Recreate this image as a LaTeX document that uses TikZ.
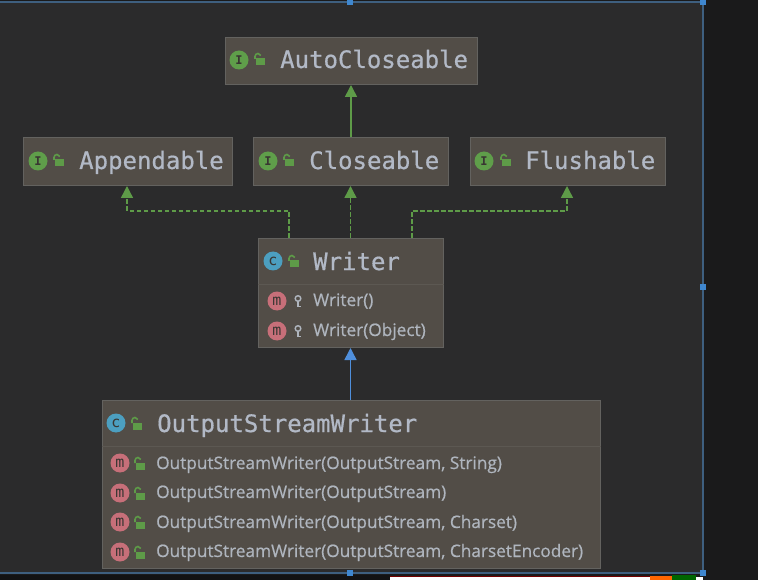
\documentclass[tikz,border=0pt]{standalone}
\usepackage{fontspec}
\setmainfont[FakeBold=0.6]{Open Sans}
\setmonofont[FakeBold=0.6]{DejaVu Sans Mono}
\newfontfamily\iconfont{DejaVu Sans Mono}
\usetikzlibrary{arrows.meta,positioning,calc}
\definecolor{bgc}{HTML}{2B2B2C}
\definecolor{outer}{HTML}{1A1A1B}
\definecolor{boxc}{HTML}{524D47}
\definecolor{boxb}{HTML}{63625F}
\definecolor{divc}{HTML}{5C5852}
\definecolor{txt}{HTML}{B2B9C6}
\definecolor{mtxt}{HTML}{AFB5BE}
\definecolor{grn}{HTML}{5E9B48}
\definecolor{igrn}{HTML}{5F9E4A}
\definecolor{cblue}{HTML}{4C9FC0}
\definecolor{mred}{HTML}{C76F79}
\definecolor{arrb}{HTML}{4F8FDC}
\definecolor{selb}{HTML}{3E5F7F}
\definecolor{hand}{HTML}{3F87CF}
\tikzset{
  x=1pt,y=-1pt,
  umlbox/.style={draw=boxb,line width=1pt,fill=boxc,inner sep=0pt,anchor=north west},
  title/.style={font=\ttfamily\fontsize{24}{24}\selectfont,text=txt,anchor=base west,inner sep=0pt},
  member/.style={font=\fontsize{17.25}{18}\selectfont,text=mtxt,anchor=base west,inner sep=0pt},
  ifaceicon/.style={circle,fill=igrn,minimum size=19pt,inner sep=0pt,text=boxc!70!black,font=\iconfont\bfseries\fontsize{12}{12}\selectfont},
  classicon/.style={circle,fill=cblue,minimum size=19pt,inner sep=0pt,text=boxc!70!black,font=\iconfont\fontsize{15}{15}\selectfont},
  methicon/.style={circle,fill=mred,minimum size=19pt,inner sep=0pt,text=boxc!70!black,font=\iconfont\fontsize{15}{15}\selectfont},
  handle/.style={fill=hand,draw=none,minimum size=6pt,inner sep=0pt},
  greenline/.style={draw=grn,line width=1.5pt},
  greendash/.style={draw=grn,line width=1.4pt,dash pattern=on 4.5pt off 2.5pt},
  bluetip/.style={-{Triangle[length=12pt,width=12pt,fill=arrb]},draw=arrb,line width=1.5pt},
  greentip/.style={-{Triangle[length=12pt,width=12pt,fill=grn]}},
}
\newcommand{\lockicon}[2]{%
  \fill[grn] (#1-3.5,#2-1.5) rectangle (#1+5.5,#2+5.5);
  \draw[grn,line width=1.6pt] (#1-4,#2-1) -- (#1-4,#2-3.5) arc[start angle=180,end angle=20,radius=3pt];
}
\newcommand{\keyicon}[2]{%
  \draw[mtxt,line width=1.4pt] (#1,#2-2.5) circle[radius=2.8pt];
  \draw[mtxt,line width=1.7pt] (#1,#2) -- (#1,#2+6) (#1,#2+5.5) -- (#1+2.5,#2+5.5);
}
\begin{document}
\begin{tikzpicture}
\useasboundingbox (0,0) rectangle (758,580);
\fill[outer] (0,0) rectangle (758,580);
\fill[bgc] (0,2) rectangle (703,573);
% bottom strip
\fill[outer!70!black] (0,575) rectangle (390,580);
\fill[white] (390,577) rectangle (703,580);
\fill[red!45!black] (390,576) rectangle (650,577);
\fill[orange!80!red] (650,576) rectangle (672,580);
\fill[green!40!black] (672,575) rectangle (696,580);
% selection frame
\draw[selb,line width=1.6pt] (0,2) -- (703,2) -- (703,573) -- (0,573);
\node[handle] (h1) at (350,2) {};
\node[handle] (h2) at (703,2) {};
\node[handle] (h3) at (703,287) {};
\node[handle] (h4) at (350,573) {};
\node[handle] (h5) at (703,573) {};
% boxes
\node[umlbox,minimum width=252pt,minimum height=47pt] (auto) at (224.5,37) {};
\node[umlbox,minimum width=209pt,minimum height=48pt] (app) at (23,137) {};
\node[umlbox,minimum width=195pt,minimum height=48pt] (clo) at (252.5,137) {};
\node[umlbox,minimum width=195pt,minimum height=48pt] (flu) at (469.5,137) {};
\node[umlbox,minimum width=185pt,minimum height=109pt] (wri) at (257.5,238) {};
\node[umlbox,minimum width=498pt,minimum height=168pt] (osw) at (101.5,400) {};
\draw[divc,line width=0.8pt] (wri.west |- 0,284) -- (wri.east |- 0,284);
\draw[divc,line width=0.8pt] (osw.west |- 0,446) -- (osw.east |- 0,446);
% titles
\node[title] (t1) at (280,68) {AutoCloseable};
\node[title] (t2) at (79,169) {Appendable};
\node[title] (t3) at (309,169) {Closeable};
\node[title] (t4) at (525,169) {Flushable};
\node[title] (t5) at (313,270) {Writer};
\node[title] (t6) at (157,432) {OutputStreamWriter};
% title icons
\node[ifaceicon] (i1) at (239,60) {I}; \lockicon{259}{60}
\node[ifaceicon] (i2) at (38,161) {I}; \lockicon{58}{161}
\node[ifaceicon] (i3) at (268,161) {I}; \lockicon{288}{161}
\node[ifaceicon] (i4) at (484,161) {I}; \lockicon{505}{161}
\node[classicon] (i5) at (273,261) {c}; \lockicon{293}{262}
\node[classicon] (i6) at (116,423) {c}; \lockicon{136}{424}
% Writer members
\node[methicon] (m1) at (277,301) {m}; \keyicon{298}{301}
\node[member] (w1) at (313,306) {Writer()};
\node[methicon] (m2) at (277,331) {m}; \keyicon{298}{331}
\node[member] (w2) at (313,336) {Writer(Object)};
% OSW members
\node[methicon] (m3) at (120,463) {m}; \lockicon{139}{464}
\node[member] (o1) at (156,469) {OutputStreamWriter(OutputStream, String)};
\node[methicon] (m4) at (120,493) {m}; \lockicon{139}{494}
\node[member] (o2) at (156,498) {OutputStreamWriter(OutputStream)};
\node[methicon] (m5) at (120,522) {m}; \lockicon{139}{523}
\node[member] (o3) at (156,528) {OutputStreamWriter(OutputStream, Charset)};
\node[methicon] (m6) at (120,552) {m}; \lockicon{139}{553}
\node[member] (o4) at (156,557) {OutputStreamWriter(OutputStream, CharsetEncoder)};
% connectors
\draw[greenline,greentip] (clo.north -| auto.south) -- (auto.south);
\coordinate (a1) at (289,238);
\coordinate (a2) at (289,211);
\coordinate (a3) at (127,211);
\draw[greendash,greentip] (a1) -- (a2) -- (a3) -- (a3 |- app.south);
\draw[greendash,greentip] (wri.north -| clo.south) -- (clo.south);
\coordinate (b1) at (412,238);
\coordinate (b2) at (412,211);
\coordinate (b3) at (567,211);
\draw[greendash,greentip] (b1) -- (b2) -- (b3) -- (b3 |- flu.south);
\draw[bluetip] (osw.north -| wri.south) -- (wri.south);
\end{tikzpicture}
\end{document}
